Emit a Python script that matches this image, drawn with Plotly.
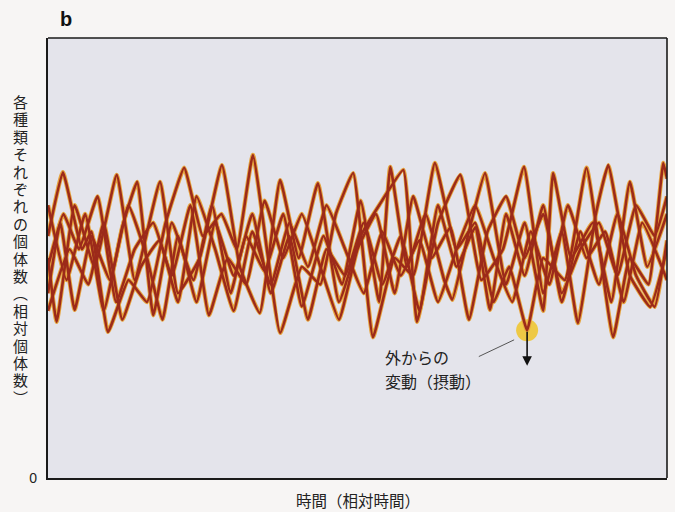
import plotly.graph_objects as go

# Relative population of each species over relative time
s1_x = [0, 2.4, 5.5, 7, 9.7, 13, 16, 19, 22, 25, 28, 30.5, 33.1, 37.5, 41, 44, 46.5, 49.3, 52.5, 56, 59, 62.5, 66, 69, 72, 74.5, 77.4, 80, 83.5, 87, 91.3, 94, 97, 99.4, 100]
s1_y = [55, 69.5, 52, 56, 33.2, 45, 40, 58, 70.5, 55, 60, 52, 73.4, 33, 48, 44, 60, 69.3, 32, 50, 46, 71.6, 52, 58, 40, 48, 33.6, 50, 45, 70.5, 32, 50, 44, 71.6, 68]

s2_x = [0, 1.4, 4.3, 7.5, 11.1, 14, 18.1, 21, 24.5, 28.1, 31, 34.2, 37.5, 40.5, 43.6, 47, 50.5, 53.5, 57.4, 59.6, 63, 66.6, 70, 73.5, 76.9, 80, 83, 85.6, 88.5, 90.5, 94, 97.3, 100]
s2_y = [50, 35.5, 62, 48, 68.9, 45, 67.3, 42, 50, 71.1, 48, 37.5, 67.7, 50, 67, 40, 55, 62, 70, 35.5, 58, 68.9, 45, 52, 70.7, 42, 56, 35.2, 60, 71.1, 46, 38.9, 52]

s3_x = [0, 3, 6, 9, 12, 14.4, 17, 20, 23.5, 26.5, 29.5, 32, 35, 38, 41, 44.5, 47.5, 50.5, 53.5, 55.3, 58, 61, 64, 65.3, 68, 70.6, 74, 77, 80, 81.6, 84.5, 88, 91, 94, 96.8, 100]
s3_y = [62, 45, 60, 38, 57, 67.3, 37, 58, 45, 62, 42, 55, 47, 60, 39, 55, 44, 63, 40, 70.7, 48, 60, 45, 40.5, 56, 69.3, 44, 58, 38, 69.3, 50, 58, 40, 67.3, 48, 60]

s4_x = [0, 2, 4.3, 7, 10, 13, 16, 18.5, 21, 24, 27, 30, 33, 36, 39, 42, 45, 48, 51, 54, 57, 60, 63, 66, 69, 71.4, 74, 77, 80, 83, 86, 89, 92, 95, 98, 100]
s4_y = [42, 58, 38.2, 55, 45, 62, 50, 36, 55, 40, 58, 46, 60, 42, 55, 36, 52, 46, 58, 44, 55, 38, 62, 48, 57, 38.2, 60, 46, 62, 40, 56, 44, 60, 46, 38.9, 54]

s5_x = [0, 2.5, 5, 8, 11, 14, 17, 20, 23, 26, 29, 32, 35, 38, 41, 44, 47, 50, 53, 56, 59, 62, 65, 68, 71, 74, 77, 80, 83, 86, 89, 92, 95, 98, 100]
s5_y = [48, 60, 52, 64, 40, 52, 58, 46, 62, 37, 50, 44, 63, 50, 60, 48, 36, 52, 60, 42, 64, 50, 57, 36, 56, 64, 50, 60, 42, 52, 58, 46, 62, 55, 64]

s6_x = [0, 3.5, 6.5, 9, 12, 15, 18, 21, 24, 27, 30, 33, 36, 39, 42, 45, 48, 51, 54, 57, 60, 63, 66, 69, 72, 75, 78, 81, 84, 87, 90, 93, 96, 100]
s6_y = [38, 52, 44, 58, 36, 48, 54, 40, 64, 52, 38, 56, 44, 58, 48, 62, 52, 42, 56, 46, 54, 40, 52, 62, 50, 40, 56, 44, 62, 50, 56, 40, 58, 45]

# Perturbation point (trough of series 1)
perturb_x = [77.4]
perturb_y = [33.6]
arrow_end_y = 25.5

panel_label = "b"
y_title = "各種類それぞれの個体数︵相対個体数︶"
x_title = "時間（相対時間）"
perturb_lines = ["外からの", "変動（摂動）"]

series = [(s1_x, s1_y), (s2_x, s2_y), (s3_x, s3_y), (s4_x, s4_y), (s5_x, s5_y), (s6_x, s6_y)]

FONT = "Noto Sans CJK JP"
fig = go.Figure()

# yellow highlight circle (under the lines)
fig.add_trace(go.Scatter(x=perturb_x, y=perturb_y, mode="markers",
                         marker=dict(size=22, color="rgba(240,196,40,0.85)", line=dict(width=0)),
                         hoverinfo="skip", showlegend=False))

for sx, sy in series:
    fig.add_trace(go.Scatter(x=sx, y=sy, mode="lines",
                             line=dict(color="#e6a43e", width=4.4, shape="spline", smoothing=0.35),
                             hoverinfo="skip", showlegend=False))
for sx, sy in series:
    fig.add_trace(go.Scatter(x=sx, y=sy, mode="lines",
                             line=dict(color="#9c2a1a", width=2.6, shape="spline", smoothing=0.35),
                             hoverinfo="skip", showlegend=False))

# vertical (stacked) y-axis title, one character per slot
PLOT_TOP, PLOT_H = 38, 440
y_top_px, pitch = 101.5, 17.4
annotations = []
for i, ch in enumerate(y_title):
    py = y_top_px + i * pitch
    annotations.append(dict(text=ch, xref="paper", yref="paper", x=-0.044,
                            y=(PLOT_TOP + PLOT_H - py) / PLOT_H, height=17,
                            xanchor="center", yanchor="middle", showarrow=False,
                            font=dict(size=15, family=FONT, color="#222")))

annotations += [
    dict(text="<b>" + panel_label + "</b>", xref="paper", yref="paper", x=0.029, y=1.043,
         xanchor="center", yanchor="middle", showarrow=False,
         font=dict(size=20, family="Liberation Sans", color="#111")),
    dict(text=x_title, xref="paper", yref="paper", x=0.5, y=-0.05,
         xanchor="center", yanchor="middle", showarrow=False,
         font=dict(size=15.5, family=FONT, color="#222")),
    dict(text=perturb_lines[0], xref="x", yref="y", x=54.1, y=27.5,
         xanchor="left", yanchor="middle", showarrow=False,
         font=dict(size=16, family=FONT, color="#222")),
    dict(text=perturb_lines[1], xref="x", yref="y", x=54.1, y=22.1,
         xanchor="left", yanchor="middle", showarrow=False,
         font=dict(size=16, family=FONT, color="#222")),
    dict(text="", x=perturb_x[0], y=arrow_end_y, ax=perturb_x[0], ay=perturb_y[0],
         xref="x", yref="y", axref="x", ayref="y", showarrow=True,
         arrowhead=2, arrowsize=1.2, arrowwidth=1.6, arrowcolor="#111"),
]

fig.update_layout(
    width=675, height=512,
    margin=dict(l=48, r=8, t=38, b=34),
    paper_bgcolor="#f7f5f4",
    plot_bgcolor="#e4e4eb",
    font=dict(family=FONT, color="#222"),
    xaxis=dict(range=[0, 100], showgrid=False, zeroline=False, showticklabels=False,
               ticks="", showline=True, linecolor="#1a1a1a", linewidth=2.2),
    yaxis=dict(range=[0, 100], showgrid=False, zeroline=False,
               tickvals=[0], ticktext=["0"], ticks="", ticklabelstandoff=6,
               tickfont=dict(size=14, family="Liberation Sans", color="#222"),
               showline=True, linecolor="#1a1a1a", linewidth=2.2),
    shapes=[
        dict(type="line", xref="x domain", yref="y domain", x0=0, x1=1, y0=1, y1=1,
             line=dict(color="#1a1a1a", width=1.6)),
        dict(type="line", xref="x domain", yref="y domain", x0=1, x1=1, y0=0, y1=1,
             line=dict(color="#1a1a1a", width=1.6)),
        dict(type="line", xref="x", yref="y", x0=69.6, y0=27.6, x1=75.3, y1=31.4,
             line=dict(color="#555", width=1)),
    ],
    annotations=annotations,
)

fig.write_html("out.html")
